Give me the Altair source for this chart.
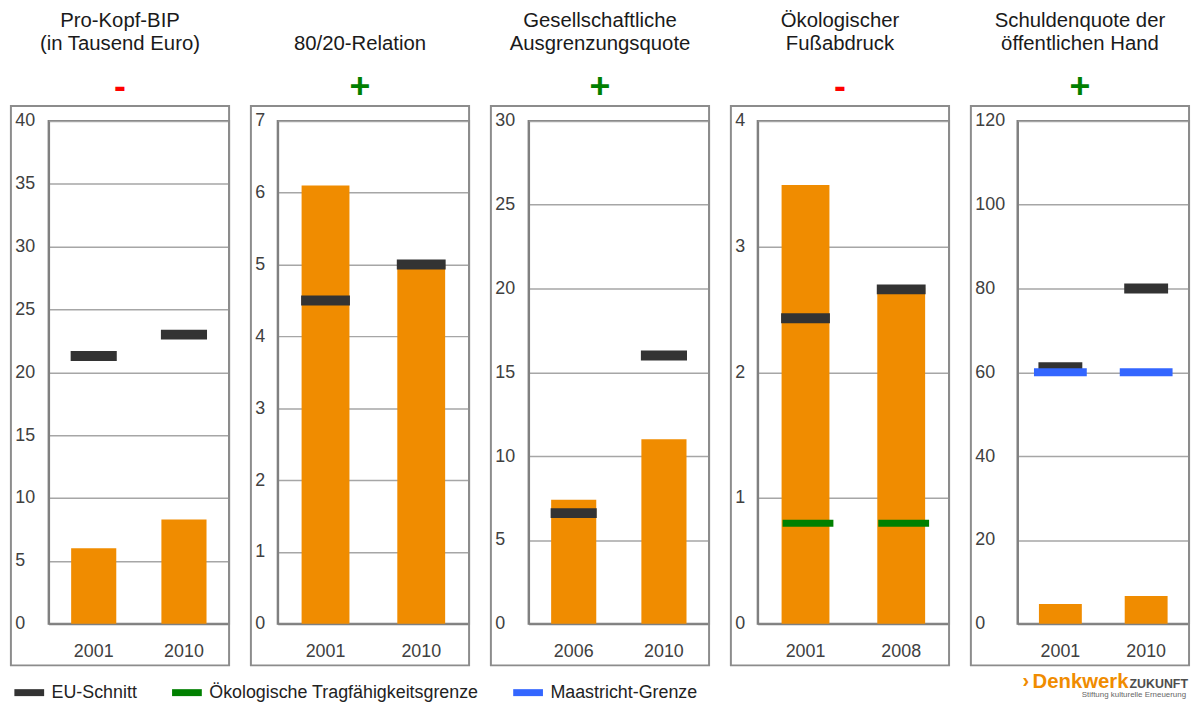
import altair as alt
import pandas as pd

# ---- data -------------------------------------------------------------
SERIES = ["EU-Schnitt", "Ökologische Tragfähigkeitsgrenze", "Maastricht-Grenze"]
SERIES_COLORS = ["#333333", "#008000", "#3366FF"]

TITLES = [
    ["Pro-Kopf-BIP", "(in Tausend Euro)"],
    ["", "80/20-Relation"],
    ["Gesellschaftliche", "Ausgrenzungsquote"],
    ["Ökologischer", "Fußabdruck"],
    ["Schuldenquote der", "öffentlichen Hand"],
]
SIGNS = ["-", "+", "+", "-", "+"]
YEARS = [["2001", "2010"], ["2001", "2010"], ["2006", "2010"], ["2001", "2008"], ["2001", "2010"]]
VALUES = [[6.0, 8.3], [6.1, 5.0], [7.4, 11.0], [3.49, 2.67], [4.7, 6.6]]
EU_AVG = [[21.3, 23.0], [4.5, 5.0], [6.6, 16.0], [2.43, 2.66], [61.2, 80.0]]
ECO_LIMIT = [[], [], [], [0.8, 0.8], []]
MAASTRICHT = [[], [], [], [], [60, 60]]
Y_MAX = [40, 7, 30, 4, 120]
Y_STEP = [5, 1, 5, 1, 20]

# ---- styling / layout -------------------------------------------------
ORANGE = "#F08C00"
FONT = "Liberation Sans"
BOX_W = 220          # framed panel width (label zone + plot)
LABEL_ZONE = [38, 27, 38, 27, 47]
H = 507

color_scale = alt.Scale(domain=SERIES, range=SERIES_COLORS)
legend = alt.Legend(
    orient="none", legendX=-28.5, legendY=567.5, direction="horizontal", title=None,
    symbolType="M-2,-0.467H2V0.467H-2Z", symbolSize=225, symbolStrokeWidth=0,
    symbolOpacity=1, labelFontSize=18, labelColor="#222222", labelLimit=400,
    labelOffset=13.5, columnPadding=35, labelFont=FONT,
)


def panel(i):
    lz = LABEL_ZONE[i]
    w = BOX_W - lz
    band = w / 4
    years = YEARS[i]

    x = alt.X(
        "year:N", sort=years,
        scale=alt.Scale(paddingInner=0.5, paddingOuter=0.25),
        axis=alt.Axis(title=None, labelAngle=0, ticks=False, tickSize=0,
                      labelPadding=19, grid=False),
    )
    y = alt.Y(
        "value:Q",
        scale=alt.Scale(domain=[0, Y_MAX[i]], nice=False, zero=True),
        axis=alt.Axis(title=None, values=list(range(0, Y_MAX[i] + 1, Y_STEP[i])),
                      format="d", labelAlign="left", labelPadding=lz - 4,
                      ticks=False, tickSize=0, grid=True),
    )
    color = alt.Color("series:N", scale=color_scale, legend=legend)

    one = pd.DataFrame({"k": [0]})
    frame = alt.Chart(one).mark_rect(
        fillOpacity=0, stroke="#8C8C8C", strokeWidth=2
    ).encode(
        x=alt.value(-lz), x2=alt.value(w), y=alt.value(-15), y2=alt.value(H + 42)
    )

    bars = alt.Chart(pd.DataFrame({"year": years, "value": VALUES[i]})).mark_bar(
        color=ORANGE
    ).encode(x=x, y=y)

    layers = [frame, bars]

    eu = pd.DataFrame({"year": years, "value": EU_AVG[i], "series": SERIES[0]})
    layers.append(
        alt.Chart(eu).mark_tick(size=band + 1, thickness=10, opacity=1)
        .encode(x=x, y=y, color=color)
    )
    if ECO_LIMIT[i]:
        eco = pd.DataFrame({"year": years, "value": ECO_LIMIT[i], "series": SERIES[1]})
        layers.append(
            alt.Chart(eco).mark_tick(size=band + 3, thickness=7, xOffset=2.5, opacity=1)
            .encode(x=x, y=y, color=color)
        )
    if MAASTRICHT[i]:
        ma = pd.DataFrame({"year": years, "value": MAASTRICHT[i], "series": SERIES[2]})
        layers.append(
            alt.Chart(ma).mark_tick(size=band + 10, thickness=8, opacity=1)
            .encode(x=x, y=y, color=color)
        )

    if i == len(TITLES) - 1:
        # foundation logo in the bottom right corner
        layers += [
            alt.Chart(one).mark_text(text="›", align="left", baseline="alphabetic",
                                     fontSize=20, fontWeight="bold", color=ORANGE, font=FONT)
            .encode(x=alt.value(5), y=alt.value(571)),
            alt.Chart(one).mark_text(text="Denkwerk", align="right", baseline="alphabetic",
                                     fontSize=20.5, fontWeight="bold", color=ORANGE, font=FONT)
            .encode(x=alt.value(112), y=alt.value(572)),
            alt.Chart(one).mark_text(text="ZUKUNFT", align="left", baseline="alphabetic",
                                     fontSize=12.5, fontWeight="bold", color="#4D4D4D", font=FONT)
            .encode(x=alt.value(113), y=alt.value(572)),
            alt.Chart(one).mark_text(text="Stiftung kulturelle Erneuerung", align="right",
                                     baseline="alphabetic", fontSize=8, color="#666666", font=FONT)
            .encode(x=alt.value(170), y=alt.value(581)),
        ]

    sign_color = "#FF0000" if SIGNS[i] == "-" else "#008000"
    title = alt.TitleParams(
        text=TITLES[i], subtitle=SIGNS[i], anchor="middle", frame="bounds",
        font=FONT, fontSize=20.5, fontWeight="normal", color="#1A1A1A", lineHeight=22.6,
        subtitleFont=FONT, subtitleFontSize=36, subtitleFontWeight="bold",
        subtitleColor=sign_color, subtitlePadding=16.2, offset=0.2,
    )
    return alt.layer(*layers).properties(width=w, height=H, title=title)


chart = (
    alt.hconcat(*[panel(i) for i in range(len(TITLES))], spacing=18)
    .resolve_scale(color="shared")
    .properties(padding={"left": 9, "top": 7, "right": 4, "bottom": -3}, background="white")
    .configure(font=FONT)
    .configure_view(stroke="#808080", strokeWidth=2)
    .configure_axis(labelFont=FONT, labelFontSize=18, labelColor="#404040",
                    domainColor="#808080", domainWidth=2,
                    gridColor="#A6A6A6", gridWidth=1.5)
)

chart.save("out.html", embed_options={"renderer": "svg", "actions": False})
